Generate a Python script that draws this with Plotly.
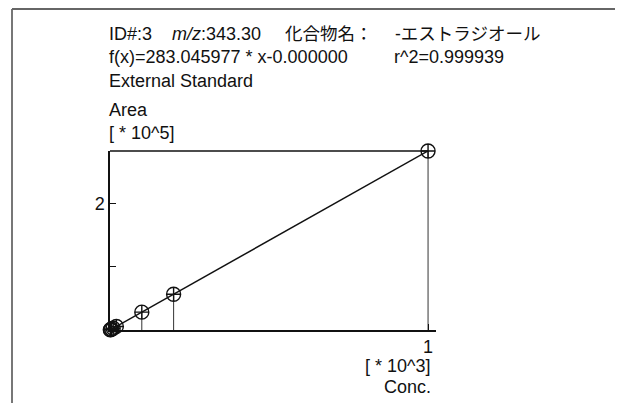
import plotly.graph_objects as go

# ---- data ----
conc = [1, 2, 5, 10, 20, 100, 200, 1000]            # Conc.
area = [290, 570, 1420, 2830, 5650, 28200, 56500, 283000]  # Area
slope = 283.045977
intercept = 0.0
x_scale = 1e3   # [ * 10^3]
y_scale = 1e5   # [ * 10^5]
y_ticks = [1, 2]
y_ticktext = ["", "2"]
x_ticks = [1]
x_ticktext = ["1"]

xs = [c / x_scale for c in conc]
ys = [a / y_scale for a in area]

OFF = 8  # page body margin
W, H = 623, 403
L, R, T, B = 110 - OFF, 436 - OFF, 151 - OFF, 330 - OFF

def px(x):
    return (x - OFF - L) / (R - L)

def py(y):
    return (B - (y - OFF)) / (B - T)

FONT = "Liberation Sans, Arial, Noto Sans CJK JP, sans-serif"
FS = 18
FS_CJK = 17.5

fig = go.Figure()

# drop lines
dx, dy = [], []
for x, y in zip(xs, ys):
    dx += [x, x, None]
    dy += [0, y, None]
fig.add_trace(go.Scatter(x=dx, y=dy, mode="lines",
                         line=dict(color="#333333", width=1),
                         hoverinfo="skip", showlegend=False, cliponaxis=False))

# regression line
xmax = max(conc)
fig.add_trace(go.Scatter(x=[0, xmax / x_scale],
                         y=[intercept / y_scale, (slope * xmax + intercept) / y_scale],
                         mode="lines", line=dict(color="#111111", width=1.5),
                         showlegend=False, cliponaxis=False))

# points
fig.add_trace(go.Scatter(x=xs, y=ys, mode="markers",
                         marker=dict(symbol="circle-cross-open", size=14,
                                     color="#111111", line=dict(width=1.4, color="#111111")),
                         showlegend=False, cliponaxis=False))

ymax = 2.83
fig.update_layout(
    width=W, height=H,
    margin=dict(l=L, r=W - R, t=T, b=H - B, pad=0),
    paper_bgcolor="white", plot_bgcolor="white",
    font=dict(family=FONT, size=FS, color="#111111"),
    xaxis=dict(range=[0, 1.025], showgrid=False, zeroline=False,
               showline=True, linecolor="#111111", linewidth=1.5,
               ticks="inside", ticklen=6, tickcolor="#111111",
               tickvals=x_ticks, ticktext=x_ticktext,
               tickfont=dict(family=FONT, size=FS, color="#111111")),
    yaxis=dict(range=[0, ymax], showgrid=False, zeroline=False,
               showline=True, linecolor="#111111", linewidth=1.5,
               ticks="inside", ticklen=6, tickcolor="#111111",
               tickvals=y_ticks, ticktext=y_ticktext,
               tickfont=dict(family=FONT, size=FS, color="#111111")),
)

shapes = []
# top frame line of the plot (to x = 1)
shapes.append(dict(type="line", xref="x", yref="paper", x0=0, x1=1, y0=1, y1=1,
                   line=dict(color="#111111", width=1.5)))
# outer grey border (left + top)
shapes.append(dict(type="line", xref="paper", yref="paper",
                   x0=px(12), x1=px(12), y0=py(9), y1=py(420),
                   line=dict(color="#777777", width=2)))
shapes.append(dict(type="line", xref="paper", yref="paper",
                   x0=px(12), x1=px(640), y0=py(9), y1=py(9),
                   line=dict(color="#666666", width=2)))
fig.update_layout(shapes=shapes)

def ann(text, x, y, xanchor="left", size=FS):
    fig.add_annotation(text=text, xref="paper", yref="paper", x=px(x), y=py(y),
                       xanchor=xanchor, yanchor="middle", align=xanchor,
                       showarrow=False,
                       font=dict(family=FONT, size=size, color="#111111"))

ann("ID#:3", 107, 34)
ann("<i>m/z</i>:343.30", 170, 34)
ann("化合物名：", 283, 34, size=FS_CJK)
ann("-エストラジオール", 393, 34, size=FS_CJK)
ann("f(x)=283.045977 * x-0.000000", 107, 57)
ann("r^2=0.999939", 392, 57)
ann("External Standard", 107, 81)
ann("Area", 107, 110)
ann("[ * 10^5]", 107, 133)
ann("[ * 10^3]", 433, 366, "right")
ann("Conc.", 433, 387, "right")

fig.write_html("out.html", config={"displayModeBar": False})
